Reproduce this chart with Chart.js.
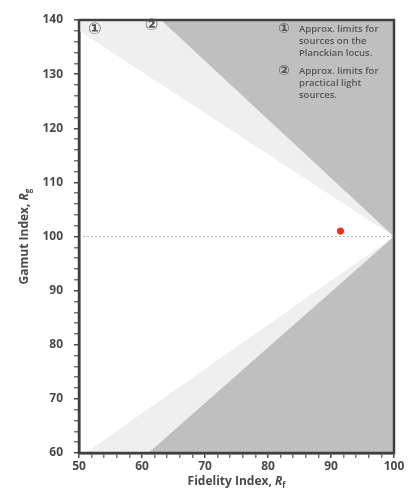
<!DOCTYPE html>
<html>
<head>
<meta charset="utf-8">
<script src="https://cdn.jsdelivr.net/npm/chart.js@4.4.0/dist/chart.umd.min.js"></script>
<style>
html,body{margin:0;padding:0;background:#fff;}
canvas{display:block;}
</style>
</head>
<body>
<canvas id="c" width="409" height="491"></canvas>
<script>
// Data
const xRange = [50, 100];
const yRange = [60, 140];
const limit1Upper = [{x: 50, y: 138}, {x: 100, y: 100}];   // approx. Planckian limits (upper)
const limit1Lower = [{x: 51, y: 60}, {x: 100, y: 100}];    // approx. Planckian limits (lower)
const limit2Upper = [{x: 63, y: 140}, {x: 100, y: 100}];   // practical limits (upper)
const limit2Lower = [{x: 61, y: 60}, {x: 100, y: 100}];    // practical limits (lower)
const referenceLine = [{x: 50, y: 100}, {x: 100, y: 100}];
const axisFrame = [{x: 50, y: 140}, {x: 50, y: 60}, {x: 100, y: 60}, {x: 100, y: 140}, {x: 50, y: 140}];
const sourcePoint = [{x: 91.5, y: 101}];
const markerLabels = [{t: '\u2460', x: 52.5, y: 138.2}, {t: '\u2461', x: 61.5, y: 139.0}];
const legendLines = [
  {mark: '\u2460', lines: ['Approx. limits for', 'sources on the', 'Planckian locus.']},
  {mark: '\u2461', lines: ['Approx. limits for', 'practical light', 'sources.']}
];

const LIGHT = '#efefef';
const DARK = '#bfbfbf';
const AXIS = '#4a4a4a';
const TEXT = '#4a4a4a';

const decor = {
  id: 'decor',
  afterDraw(chart) {
    const ctx = chart.ctx;
    const xs = chart.scales.x, ys = chart.scales.y;
    const a = chart.chartArea;
    ctx.save();
    ctx.setLineDash([]);
    ctx.strokeStyle = '#3f3f3f';
    ctx.lineWidth = 2;
    ctx.strokeRect(a.left, a.top, a.right - a.left, a.bottom - a.top);
    ctx.fillStyle = '#555';
    ctx.font = 'bold 16px "DejaVu Sans"';
    ctx.textAlign = 'center';
    ctx.textBaseline = 'middle';
    markerLabels.forEach(m => ctx.fillText(m.t, xs.getPixelForValue(m.x), ys.getPixelForValue(m.y)));
    let y0 = 29;
    legendLines.forEach((g) => {
      ctx.font = 'bold 14px "DejaVu Sans"';
      ctx.fillStyle = '#555';
      ctx.textAlign = 'center';
      ctx.fillText(g.mark, 284, y0);
      ctx.font = '600 9.5px "Open Sans"';
      ctx.textAlign = 'left';
      ctx.fillStyle = '#555';
      g.lines.forEach((l, j) => ctx.fillText(l, 299, y0 + j * 12));
      y0 += 42;
    });
    ctx.fillStyle = TEXT;
    ctx.textBaseline = 'alphabetic';
    function richTitle(cx, cy, base, sub) {
      ctx.font = 'bold 12px "Open Sans"';
      const w1 = ctx.measureText(base).width;
      ctx.font = 'italic bold 12px "Open Sans"';
      const w2 = ctx.measureText('R').width;
      ctx.font = 'bold 8px "Open Sans"';
      const w3 = ctx.measureText(sub).width;
      let x = cx - (w1 + w2 + w3) / 2;
      ctx.textAlign = 'left';
      ctx.font = 'bold 12px "Open Sans"';
      ctx.fillText(base, x, cy); x += w1;
      ctx.font = 'italic bold 12px "Open Sans"';
      ctx.fillText('R', x, cy); x += w2;
      ctx.font = 'bold 8px "Open Sans"';
      ctx.fillText(sub, x, cy + 3);
    }
    richTitle((a.left + a.right) / 2, 485, 'Fidelity Index, ', 'f');
    ctx.save();
    ctx.translate(28, (a.top + a.bottom) / 2);
    ctx.rotate(-Math.PI / 2);
    richTitle(0, 0, 'Gamut Index, ', 'g');
    ctx.restore();
    ctx.restore();
  }
};

const tickColor = c => (c.tick && c.tick.value % 10 === 0) ? AXIS : '#777';
const tickLabel = v => (v % 10 === 0 ? String(v) : '');

new Chart(document.getElementById('c'), {
  type: 'scatter',
  data: {
    datasets: [
      {data: limit1Upper, showLine: true, fill: 'end', backgroundColor: LIGHT, borderColor: 'rgba(0,0,0,0)', borderWidth: 1, pointRadius: 0, order: 5},
      {data: limit1Lower, showLine: true, fill: 'start', backgroundColor: LIGHT, borderColor: 'rgba(0,0,0,0)', borderWidth: 1, pointRadius: 0, order: 5},
      {data: limit2Upper, showLine: true, fill: 'end', backgroundColor: DARK, borderColor: 'rgba(0,0,0,0)', borderWidth: 1, pointRadius: 0, order: 4},
      {data: limit2Lower, showLine: true, fill: 'start', backgroundColor: DARK, borderColor: 'rgba(0,0,0,0)', borderWidth: 1, pointRadius: 0, order: 4},
      {data: referenceLine, showLine: true, fill: false, borderColor: '#b8b8b8', borderWidth: 1, borderDash: [2, 2], pointRadius: 0, order: 3},
      {data: axisFrame, showLine: true, fill: false, borderColor: AXIS, borderWidth: 2.5, pointRadius: 0, clip: false, order: 2},
      {data: sourcePoint, backgroundColor: '#e8341f', borderColor: '#e8341f', pointRadius: 3.2, order: 1}
    ]
  },
  options: {
    responsive: false,
    animation: false,
    devicePixelRatio: 1,
    layout: {padding: {left: 0, top: 20, right: 15, bottom: 0}},
    plugins: {legend: {display: false}, tooltip: {enabled: false}},
    scales: {
      x: {
        type: 'linear', min: xRange[0], max: xRange[1],
        ticks: {stepSize: 2, autoSkip: false, maxRotation: 0, callback: tickLabel, color: TEXT, font: {family: 'Open Sans', size: 12, weight: 'bold'}, padding: 1},
        grid: {display: true, drawOnChartArea: false, drawTicks: true, tickLength: 5, color: tickColor, lineWidth: 1.5},
        border: {display: true, color: AXIS, width: 2.5},
        afterFit: s => { s.height = 38; }
      },
      y: {
        type: 'linear', min: yRange[0], max: yRange[1],
        ticks: {stepSize: 2, autoSkip: false, callback: tickLabel, color: TEXT, font: {family: 'Open Sans', size: 12, weight: 'bold'}, padding: 11},
        grid: {display: true, drawOnChartArea: false, drawTicks: true, tickLength: 5, color: tickColor, lineWidth: 1.5},
        border: {display: true, color: AXIS, width: 2.5},
        afterFit: s => { s.width = 79; }
      }
    }
  },
  plugins: [decor]
});
</script>
</body>
</html>
